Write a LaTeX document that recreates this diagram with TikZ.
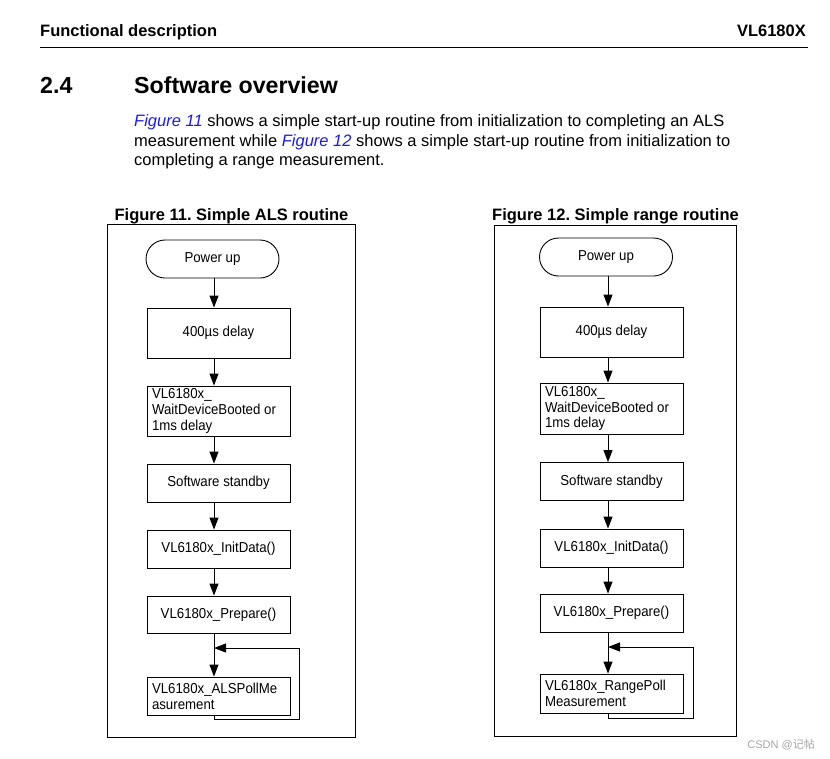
\documentclass[tikz,border=0pt]{standalone}
\usepackage{fontspec}
\setmainfont{Liberation Sans}
\newfontfamily\figfont{Liberation Sans}[FakeStretch=0.92]
\newfontfamily\cjkfont{Noto Sans CJK SC}
\usetikzlibrary{shapes.misc,arrows.meta}
\definecolor{linkblue}{RGB}{28,28,225}
\definecolor{wmgray}{RGB}{165,165,165}
\frenchspacing
\begin{document}
\begin{tikzpicture}[x=1pt,y=-1pt,
  hdr/.style={font=\fontsize{16.5}{19}\selectfont\bfseries, inner sep=0pt},
  sec/.style={font=\fontsize{23.2}{26}\selectfont\bfseries, inner sep=0pt},
  para/.style={font=\fontsize{16.5}{19.5}\selectfont, inner sep=0pt, anchor=base west},
  figtitle/.style={font=\fontsize{16.5}{19}\selectfont\bfseries, inner sep=0pt, anchor=base},
  frame/.style={draw, line width=1pt},
  box/.style={draw, line width=0.9pt, inner sep=0pt, minimum width=143pt,
    font=\figfont\fontsize{14.4}{15.8}\selectfont, align=center},
  lbox/.style={box, align=flush left, text width=133pt},
  term/.style={draw, line width=0.9pt, rounded rectangle, inner sep=0pt,
    minimum width=133pt, minimum height=38pt, font=\figfont\fontsize{14.4}{15.8}\selectfont},
  arr/.style={-{Triangle[length=12pt,width=9pt]}, line width=0.9pt},
]
\useasboundingbox (0,0) rectangle (830,758);

% page header
\node[hdr, anchor=base west] (h1) at (40,36) {Functional description};
\node[hdr, anchor=base east] (h2) at (806,36) {VL6180X};
\draw[line width=1pt] (40,47) -- (808,47);

% section
\node[sec, anchor=base west] (s1) at (40,93.5) {2.4};
\node[sec, anchor=base west] (s2) at (134,93.5) {Software overview};
\node[para] (p1) at (134,126.5) {\textcolor{linkblue}{\itshape Figure 11} shows a simple start-up routine from initialization to completing an ALS};
\node[para] (p2) at (134,146) {measurement while \textcolor{linkblue}{\itshape Figure 12} shows a simple start-up routine from initialization to};
\node[para] (p3) at (134,165.5) {completing a range measurement.};

% ---------- Figure 11 ----------
\node[figtitle] (t1) at (231.5,220) {Figure 11. Simple ALS routine};
\draw[frame] (107,224) rectangle (355,737);
\coordinate (colL) at (214,0);
\node[term] (pwL) at (212.5,259) {Power up};
\node[box, minimum height=50pt] (dlL) at (218.5,333) {400µs delay};
\node[lbox, minimum height=50pt] (wtL) at (218.5,411) {VL6180x\_\\WaitDeviceBooted or\\1ms delay};
\node[box, minimum height=38pt] (sbL) at (218.5,483) {Software standby};
\node[box, minimum height=38pt] (inL) at (218.5,549) {VL6180x\_InitData()};
\node[box, minimum height=37pt] (prL) at (218.5,614.5) {VL6180x\_Prepare()};
\node[lbox, minimum height=38pt] (msL) at (218.5,696) {VL6180x\_ALSPollMe\\asurement};
\coordinate (lpL) at (299,719);
\coordinate (jnL) at (214,648);
\draw[arr] (pwL.south -| colL) -- (dlL.north -| colL);
\draw[arr] (dlL.south -| colL) -- (wtL.north -| colL);
\draw[arr] (wtL.south -| colL) -- (sbL.north -| colL);
\draw[arr] (sbL.south -| colL) -- (inL.north -| colL);
\draw[arr] (inL.south -| colL) -- (prL.north -| colL);
\draw[arr] (prL.south -| colL) -- (msL.north -| colL);
\draw[arr] (msL.south -| colL) |- (lpL) |- (jnL);

% ---------- Figure 12 ----------
\node[figtitle] (t2) at (615.5,220) {Figure 12. Simple range routine};
\draw[frame] (494,225) rectangle (736,736);
\coordinate (colR) at (608,0);
\node[term] (pwR) at (606,257) {Power up};
\node[box, minimum height=50pt] (dlR) at (611.5,332) {400µs delay};
\node[lbox, minimum height=51pt] (wtR) at (611.5,408.5) {VL6180x\_\\WaitDeviceBooted or\\1ms delay};
\node[box, minimum height=38pt] (sbR) at (611.5,481.5) {Software standby};
\node[box, minimum height=38pt] (inR) at (611.5,548) {VL6180x\_InitData()};
\node[box, minimum height=38pt] (prR) at (611.5,613) {VL6180x\_Prepare()};
\node[lbox, minimum height=39pt] (msR) at (611.5,693.5) {VL6180x\_RangePoll\\Measurement};
\coordinate (lpR) at (693,718);
\coordinate (jnR) at (608,647);
\draw[arr] (pwR.south -| colR) -- (dlR.north -| colR);
\draw[arr] (dlR.south -| colR) -- (wtR.north -| colR);
\draw[arr] (wtR.south -| colR) -- (sbR.north -| colR);
\draw[arr] (sbR.south -| colR) -- (inR.north -| colR);
\draw[arr] (inR.south -| colR) -- (prR.north -| colR);
\draw[arr] (prR.south -| colR) -- (msR.north -| colR);
\draw[arr] (msR.south -| colR) |- (lpR) |- (jnR);

% watermark
\node[anchor=base east, inner sep=0pt, text=wmgray, font=\fontsize{11}{13}\selectfont] (wm) at (815,748) {CSDN @{\cjkfont 记帖}};
\end{tikzpicture}
\end{document}
